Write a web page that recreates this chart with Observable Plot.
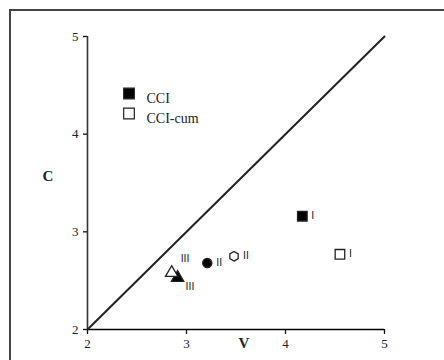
<!DOCTYPE html>
<html>
<head>
<meta charset="utf-8">
<script src="https://cdn.jsdelivr.net/npm/d3@7"></script>
<script src="https://cdn.jsdelivr.net/npm/@observablehq/plot@0.6"></script>
<style>
  html, body { margin: 0; padding: 0; background: #fff; }
  #wrap { position: relative; width: 444px; height: 360px; overflow: hidden; }
  #border { position: absolute; left: 9px; top: 9px; width: 460px; height: 400px;
            border-left: 2px solid #444; border-top: 2px solid #444; pointer-events: none; }
</style>
</head>
<body>
<div id="wrap"><div id="border"></div></div>
<script>
// Data
const pointLabels = ["I", "I", "II", "II", "III", "III"];
const pointSeries = ["CCI", "CCI-cum", "CCI", "CCI-cum", "CCI", "CCI-cum"];
const pointSymbols = ["square", "square", "circle", "hexagon", "triangle", "triangle"];
const vValues = [4.17, 4.55, 3.21, 3.48, 2.91, 2.85];
const cValues = [3.16, 2.77, 2.68, 2.75, 2.53, 2.58];
const axisTicks = [2, 3, 4, 5];
const diagonal = [2, 5];
const legendSeries = ["CCI", "CCI-cum"];

const points = vValues.map((v, i) => ({
  v, c: cValues[i], label: pointLabels[i], series: pointSeries[i], symbol: pointSymbols[i]
}));

const symbolRadius = { square: 5.4, circle: 4.6, hexagon: 4.2, triangle: 4.6 };
const filled = s => s === "CCI" ? "#000" : "#fff";
const serif = "'Liberation Serif', 'Times New Roman', serif";
const sans = "'DejaVu Sans', sans-serif";

const normalLabels = points.filter(d => d.symbol !== "triangle");
const triUp = points.filter(d => d.symbol === "triangle" && d.series === "CCI-cum");
const triDown = points.filter(d => d.symbol === "triangle" && d.series === "CCI");

const chart = Plot.plot({
  width: 444,
  height: 360,
  marginLeft: 87,
  marginRight: 60,
  marginTop: 36,
  marginBottom: 31,
  style: { fontFamily: serif, fontSize: "13px", background: "transparent", color: "#222" },
  x: { domain: [2, 5] },
  y: { domain: [2, 5] },
  r: { type: "identity" },
  symbol: { type: "identity" },
  marks: [
    Plot.axisX({ ticks: axisTicks, tickFormat: "d", tickSize: 5, tickPadding: 4, label: null, fontSize: 13, strokeWidth: 1.3, stroke: "#111" }),
    Plot.axisY({ ticks: axisTicks, tickFormat: "d", tickSize: 4, tickPadding: 5, label: null, fontSize: 13, strokeWidth: 1.3, stroke: "#111" }),
    Plot.ruleX([2], { stroke: "#333", strokeWidth: 1.6 }),
    Plot.ruleY([2], { stroke: "#000", strokeWidth: 1.6 }),
    Plot.line(diagonal, { x: d => d, y: d => d, stroke: "#222", strokeWidth: 2 }),
    Plot.dot(points, {
      x: "v", y: "c", symbol: "symbol", r: d => symbolRadius[d.symbol],
      fill: d => filled(d.series), stroke: "#222", strokeWidth: 1.3
    }),
    Plot.text(normalLabels, { x: "v", y: "c", text: "label", dx: 9, textAnchor: "start",
      fontFamily: sans, fontSize: 10, fill: "#222" }),
    Plot.text(triUp, { x: "v", y: "c", text: "label", dx: 9, dy: -14, textAnchor: "start",
      fontFamily: sans, fontSize: 10, fill: "#222" }),
    Plot.text(triDown, { x: "v", y: "c", text: "label", dx: 8, dy: 9, textAnchor: "start",
      fontFamily: sans, fontSize: 10, fill: "#222" }),
    Plot.text(["C"], { frameAnchor: "left", dx: -45, dy: -7, text: d => d,
      fontFamily: serif, fontSize: 15, fontWeight: "bold", fill: "#222" }),
    Plot.text(["V"], { frameAnchor: "bottom", dx: 8, dy: 18, text: d => d,
      fontFamily: serif, fontSize: 15, fontWeight: "bold", fill: "#222" }),
    ...legendSeries.map((s, i) => Plot.dot([s], {
      frameAnchor: "top-left", dx: 41.5, dy: 57 + i * 20, symbol: "square", r: 6,
      fill: filled(s), stroke: "#222", strokeWidth: 1.2
    })),
    ...legendSeries.map((s, i) => Plot.text([s], {
      frameAnchor: "top-left", dx: 59, dy: 57 + i * 20, text: d => d, textAnchor: "start",
      fontFamily: serif, fontSize: 14, fill: "#222"
    }))
  ]
});
document.getElementById("wrap").prepend(chart);
</script>
</body>
</html>
